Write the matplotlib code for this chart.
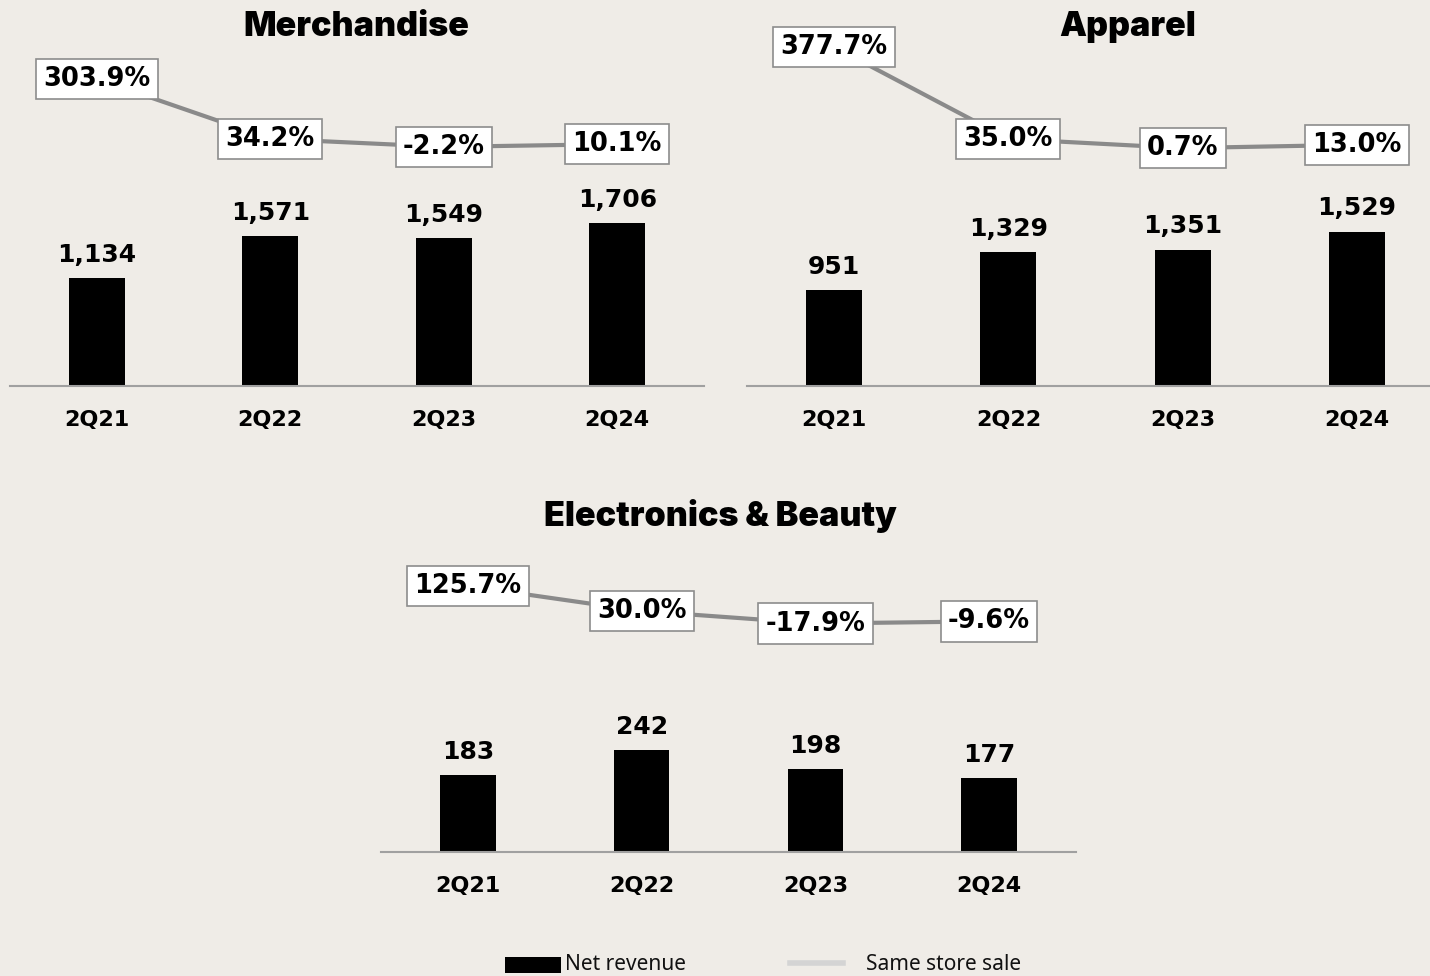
import matplotlib.pyplot as plt
from matplotlib.patches import Rectangle
from matplotlib.lines import Line2D

quarters = ["2Q21", "2Q22", "2Q23", "2Q24"]
merch_rev = [1134, 1571, 1549, 1706]
merch_sss = [303.9, 34.2, -2.2, 10.1]
apparel_rev = [951, 1329, 1351, 1529]
apparel_sss = [377.7, 35.0, 0.7, 13.0]
eb_rev = [183, 242, 198, 177]
eb_sss = [125.7, 30.0, -17.9, -9.6]

W, H = 1430, 976
BG = '#efece7'
LINE_C = '#8a8a8a'
fig = plt.figure(figsize=(W / 100, H / 100), dpi=100, facecolor=BG)


def px_axes(l, r, b, t):
    return fig.add_axes([l / W, 1 - b / H, (r - l) / W, (b - t) / H])


def panel(l, r, b, t, rev, sss, bar_ylim, line_ylim):
    ax = px_axes(l, r, b, t)
    ax.patch.set_alpha(0)
    x = list(range(len(quarters)))
    ax.bar(x, rev, width=0.32, color='black', zorder=2)
    ax.set_xlim(-0.5, 3.5)
    ax.set_ylim(*bar_ylim)
    for s in ['top', 'right', 'left']:
        ax.spines[s].set_visible(False)
    ax.spines['bottom'].set_color('#a0a0a0')
    ax.spines['bottom'].set_linewidth(1.5)
    ax.set_yticks([])
    ax.set_xticks(x)
    ax.set_xticklabels(quarters, fontsize=16, fontweight='bold')
    ax.tick_params(axis='x', length=0, pad=17)
    for xi, v in zip(x, rev):
        ax.annotate(f"{v:,}", (xi, v), xytext=(0, 8), textcoords='offset points',
                    ha='center', va='bottom', fontsize=18, fontweight='bold')
    ax2 = ax.twinx()
    ax2.set_ylim(*line_ylim)
    ax2.axis('off')
    ax2.plot(x, sss, color=LINE_C, lw=3, zorder=1)
    for xi, v in zip(x, sss):
        ax2.text(xi, v, f"{v:.1f}%", ha='center', va='center', fontsize=18.5,
                 fontweight='bold', zorder=3,
                 bbox=dict(boxstyle='square,pad=0.28', fc='white', ec='#8c8c8c', lw=1.2))
    return ax


panel(10, 704, 386, 40, merch_rev, merch_sss, (0, 3623), (-1079, 479))
panel(747, 1444, 386, 40, apparel_rev, apparel_sss, (0, 3426), (-887, 404))
panel(381, 1076, 852, 540, eb_rev, eb_sss, (0, 743), (-893, 302))

title_kw = dict(fontsize=24.5, fontweight=900, family='Inter', ha='center', va='center')
fig.text(356 / W, 1 - 27 / H, "Merchandise", **title_kw)
fig.text(1128 / W, 1 - 27 / H, "Apparel", **title_kw)
fig.text(720 / W, 1 - 516 / H, "Electronics & Beauty", **title_kw)

# legend
fig.patches.append(Rectangle((505 / W, 1 - 973 / H), 56 / W, 16 / H,
                             transform=fig.transFigure, facecolor='black', edgecolor='none'))
fig.text(565 / W, 1 - 965 / H, "Net revenue", ha='left', va='center',
         fontsize=15, family='Noto Sans', color='#111111')
fig.lines.append(Line2D([790 / W, 843 / W], [1 - 963 / H, 1 - 963 / H],
                        transform=fig.transFigure, color='#d4d4d4', lw=4))
fig.text(866 / W, 1 - 965 / H, "Same store sale", ha='left', va='center',
         fontsize=15, family='Noto Sans', color='#111111')

fig.savefig('out.png', dpi=100, facecolor=BG)
